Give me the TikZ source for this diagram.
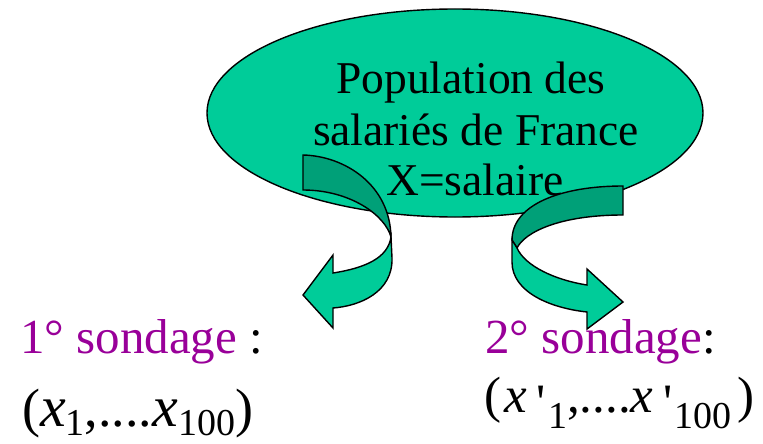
\documentclass[tikz,border=0pt]{standalone}
\usepackage{fontspec}
\setmainfont{Liberation Serif}
\usetikzlibrary{shapes.geometric}
\definecolor{lightg}{RGB}{0,204,153}
\definecolor{darkg}{RGB}{0,160,120}
\definecolor{purp}{RGB}{153,0,153}
\newcommand{\subl}[1]{\raisebox{-9pt}[\height][0pt]{\fontsize{38}{38}\selectfont #1}}
\newcommand{\subr}[1]{\raisebox{-16pt}[\height][0pt]{\fontsize{38}{38}\selectfont #1}}
\newcommand{\xl}{{\fontsize{58}{58}\selectfont\textit{x}}}
\newcommand{\myprime}{\raisebox{-7pt}{\textquotesingle}}
\begin{document}
\begin{tikzpicture}[x=1pt,y=-1pt,
  ribbon/.style={draw=black,line width=1.4pt,line join=miter},
  lbl/.style={inner sep=0pt,anchor=base west,font=\fontsize{49}{49}\selectfont},
  mthl/.style={inner sep=0pt,anchor=base west,font=\fontsize{54}{54}\selectfont},
  mthr/.style={inner sep=0pt,anchor=base west,font=\fontsize{51}{51}\selectfont},
  poptext/.style={inner sep=0pt,anchor=base,font=\fontsize{45.5}{45.5}\selectfont}]
\useasboundingbox (0,0) rectangle (763,444);
\node[draw=black,line width=1.4pt,fill=lightg,ellipse,minimum width=496pt,minimum height=208pt,inner sep=0pt] (pop) at (455,113) {};
% left arrow
\path[ribbon,fill=darkg] (303,155) .. controls (345,156) and (390,185) .. (391,237)
  .. controls (385,215) and (350,190) .. (303,190) -- cycle;
\path[ribbon,fill=lightg] (391,237) -- (392,258) .. controls (393,292) and (360,306) .. (333,308)
  -- (333,328) -- (303,295) -- (333,255) -- (333,273)
  .. controls (365,268) and (388,258) .. (391,237) -- cycle;
% right arrow
\path[ribbon,fill=darkg] (623,186) .. controls (560,186) and (512,205) .. (512,240)
  -- (517,248) .. controls (525,232) and (560,215) .. (623,215) -- cycle;
\path[ribbon,fill=lightg] (512,240) -- (512,262) .. controls (512,292) and (550,308) .. (587,312)
  -- (587,329) -- (623,302) -- (587,269) -- (587,285)
  .. controls (555,280) and (525,266) .. (517,248) -- cycle;
% texts
\node[poptext] (t1) at (471,93) {Population des};
\node[poptext] (t2) at (476,145) {salariés de France};
\node[poptext] (t3) at (475,195) {X=salaire};
\node[lbl] (s1) at (20,353) {\textcolor{purp}{1° sondage} :};
\node[lbl] (s2) at (485,353) {\textcolor{purp}{2° sondage}:};
\node[mthl] (m1) at (22,426) {(\xl\subl{1},....\xl\subl{100})};
\node[mthr] (m2) at (484,412) {(\hspace{3pt}\textit{x}\hspace{10pt}\myprime\hspace{2pt}\subr{1},....\textit{x}\hspace{10pt}\myprime\hspace{2pt}\subr{100}\hspace{6pt})};
\end{tikzpicture}
\end{document}
